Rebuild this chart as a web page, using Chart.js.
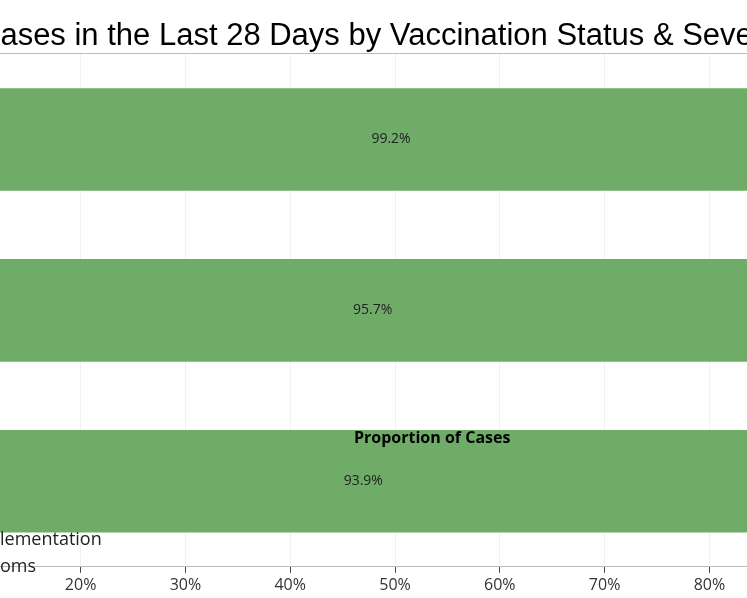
<!DOCTYPE html>
<html><head><meta charset="utf-8">
<script src="https://cdn.jsdelivr.net/npm/chart.js@4"></script>
<style>
body{margin:0;width:747px;height:598px;overflow:hidden;background:#fff;position:relative;font-family:"Open Sans",sans-serif}
#wrap{position:absolute;left:-200px;top:0;width:1200px;height:598px}
.t{position:absolute;white-space:nowrap;color:#000}
</style></head><body>
<div id="wrap"><canvas id="c" width="1200" height="598"></canvas></div>
<div class="t" style="left:-22px;top:17px;font:31px 'Liberation Sans',Arial,sans-serif;">Cases in the Last 28 Days by Vaccination Status &amp; Severity</div>
<div style="position:absolute;left:0;top:53px;width:747px;height:1px;background:#bbb"></div>
<div class="t" style="left:354px;top:426px;font-weight:bold;font-size:16px;">Proportion of Cases</div>
<div class="t" style="left:0;top:526px;font-size:18px;color:#222">lementation</div>
<div class="t" style="left:0;top:553px;font-size:18px;color:#222">oms</div>
<script>
const categories = ["Row 1", "Row 2", "Row 3"];
const mainValues = [99.2, 95.7, 93.9];
const restValues = [0.8, 4.3, 6.1];
const xTicks = [0, 10, 20, 30, 40, 50, 60, 70, 80, 90, 100];

const labelPlugin = {
  id: "barLabels",
  afterDatasetsDraw(chart) {
    const c = chart.ctx;
    const meta = chart.getDatasetMeta(0);
    c.save();
    c.font = "14px 'Open Sans', sans-serif";
    c.fillStyle = "#222";
    c.textAlign = "center";
    c.textBaseline = "middle";
    meta.data.forEach((bar, i) => {
      c.fillText(mainValues[i].toFixed(1) + "%", (bar.x + bar.base) / 2, bar.y);
    });
    c.restore();
  }
};

new Chart(document.getElementById("c"), {
  type: "bar",
  data: {
    labels: categories,
    datasets: [
      { data: mainValues, backgroundColor: "#6fac68", barPercentage: 0.6, categoryPercentage: 1 },
      { data: restValues, backgroundColor: "#e0a050", barPercentage: 0.6, categoryPercentage: 1 }
    ]
  },
  options: {
    indexAxis: "y",
    responsive: false,
    animation: false,
    layout: { padding: { left: 71, right: 81, top: 54 } },
    plugins: { legend: { display: false }, tooltip: { enabled: false } },
    scales: {
      x: {
        stacked: true, min: 0, max: 100,
        afterBuildTicks: a => { a.ticks = xTicks.map(v => ({ value: v })); },
        grid: { color: "#f0f0f0", tickColor: "#444", tickLength: 6 },
        border: { color: "#bbb" },
        ticks: { color: "#333", font: { size: 16, family: "Open Sans" }, callback: v => v + "%" }
      },
      y: { stacked: true, display: false }
    }
  },
  plugins: [labelPlugin]
});
</script>
</body></html>
